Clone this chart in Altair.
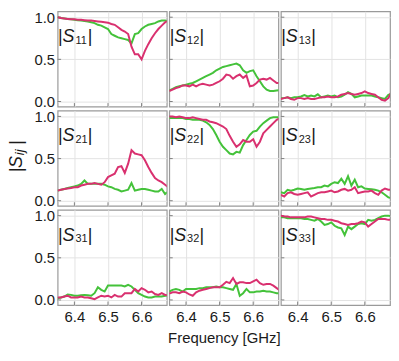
import altair as alt
import pandas as pd

FREQ = [6.35, 6.36, 6.37, 6.38, 6.39, 6.40, 6.41, 6.42, 6.43, 6.44, 6.45, 6.46,
        6.47, 6.48, 6.49, 6.50, 6.51, 6.52, 6.53, 6.54, 6.55, 6.56, 6.57, 6.58,
        6.59, 6.60, 6.61, 6.62, 6.63, 6.64, 6.65, 6.66, 6.67, 6.68]

S11_M = [1.0, 0.99, 0.985, 0.98, 0.975, 0.975, 0.97, 0.97, 0.965, 0.96, 0.96, 0.955,
         0.95, 0.945, 0.94, 0.935, 0.92, 0.91, 0.88, 0.85, 0.83, 0.80, 0.65, 0.56,
         0.56, 0.50, 0.60, 0.68, 0.75, 0.81, 0.86, 0.90, 0.94, 0.96]
S11_G = [1.0, 0.99, 0.985, 0.98, 0.975, 0.97, 0.965, 0.96, 0.955, 0.95, 0.94, 0.93,
         0.91, 0.90, 0.88, 0.86, 0.80, 0.78, 0.76, 0.75, 0.74, 0.73, 0.69, 0.80,
         0.81, 0.86, 0.89, 0.91, 0.92, 0.93, 0.95, 0.96, 0.96, 0.95]
S12_M = [0.125, 0.14, 0.16, 0.17, 0.19, 0.19, 0.18, 0.20, 0.18, 0.20, 0.21, 0.20,
         0.19, 0.20, 0.22, 0.24, 0.27, 0.32, 0.31, 0.27, 0.30, 0.32, 0.28, 0.31,
         0.18, 0.19, 0.22, 0.26, 0.27, 0.26, 0.28, 0.25, 0.22, 0.22]
S12_G = [0.13, 0.15, 0.17, 0.18, 0.19, 0.20, 0.21, 0.22, 0.24, 0.26, 0.28, 0.30,
         0.32, 0.34, 0.37, 0.39, 0.41, 0.42, 0.43, 0.44, 0.45, 0.43, 0.37, 0.34,
         0.36, 0.37, 0.30, 0.24, 0.18, 0.14, 0.125, 0.125, 0.13, 0.135]
S13_M = [0.03, 0.04, 0.05, 0.03, 0.02, 0.04, 0.04, 0.03, 0.04, 0.03, 0.03, 0.04,
         0.05, 0.05, 0.06, 0.05, 0.05, 0.06, 0.08, 0.09, 0.10, 0.09, 0.08, 0.09,
         0.10, 0.12, 0.10, 0.09, 0.08, 0.05, 0.02, 0.01, 0.04, 0.12]
S13_G = [0.04, 0.04, 0.05, 0.04, 0.05, 0.05, 0.06, 0.075, 0.06, 0.07, 0.06, 0.085,
         0.05, 0.06, 0.07, 0.06, 0.07, 0.05, 0.06, 0.08, 0.11, 0.09, 0.05, 0.06,
         0.07, 0.07, 0.07, 0.07, 0.06, 0.05, 0.04, 0.03, 0.08, 0.09]
S21_M = [0.12, 0.13, 0.14, 0.145, 0.15, 0.16, 0.16, 0.18, 0.19, 0.20, 0.20, 0.21,
         0.20, 0.19, 0.22, 0.28, 0.30, 0.32, 0.40, 0.41, 0.33, 0.44, 0.60, 0.56,
         0.55, 0.54, 0.48, 0.40, 0.33, 0.27, 0.24, 0.22, 0.19, 0.16]
S21_G = [0.12, 0.13, 0.14, 0.15, 0.16, 0.17, 0.18, 0.20, 0.24, 0.20, 0.20, 0.20,
         0.20, 0.20, 0.19, 0.17, 0.16, 0.14, 0.13, 0.11, 0.12, 0.13, 0.21, 0.12,
         0.13, 0.14, 0.14, 0.13, 0.12, 0.11, 0.11, 0.14, 0.08, 0.11]
S22_M = [1.0, 1.0, 0.99, 1.0, 0.99, 0.98, 0.98, 0.99, 0.98, 0.97, 0.96, 0.96,
         0.94, 0.93, 0.92, 0.90, 0.88, 0.85, 0.77, 0.70, 0.64, 0.67, 0.72, 0.70,
         0.70, 0.73, 0.64, 0.70, 0.80, 0.84, 0.88, 0.92, 0.96, 0.98]
S22_G = [0.98, 0.98, 0.98, 0.98, 0.98, 0.97, 0.97, 0.96, 0.96, 0.96, 0.95, 0.93,
         0.90, 0.85, 0.78, 0.70, 0.64, 0.60, 0.56, 0.55, 0.58, 0.57, 0.66, 0.72,
         0.78, 0.82, 0.83, 0.88, 0.92, 0.95, 0.98, 0.99, 0.99, 0.99]
S23_M = [0.07, 0.05, 0.09, 0.10, 0.08, 0.07, 0.08, 0.09, 0.10, 0.05, 0.07, 0.09,
         0.10, 0.10, 0.11, 0.12, 0.10, 0.11, 0.13, 0.14, 0.12, 0.13, 0.16, 0.09,
         0.10, 0.11, 0.11, 0.12, 0.09, 0.07, 0.12, 0.145, 0.13, 0.13]
S23_G = [0.10, 0.09, 0.13, 0.12, 0.13, 0.145, 0.14, 0.13, 0.14, 0.145, 0.15, 0.16,
         0.16, 0.18, 0.17, 0.20, 0.22, 0.21, 0.26, 0.20, 0.29, 0.18, 0.25, 0.16,
         0.17, 0.145, 0.14, 0.135, 0.13, 0.12, 0.10, 0.07, 0.04, 0.03]
S31_M = [0.03, 0.03, 0.04, 0.05, 0.03, 0.03, 0.03, 0.04, 0.03, 0.03, 0.02, 0.01,
         0.03, 0.05, 0.04, 0.05, 0.03, 0.06, 0.04, 0.04, 0.08, 0.08, 0.08, 0.13,
         0.10, 0.14, 0.12, 0.09, 0.10, 0.07, 0.06, 0.08, 0.06, 0.06]
S31_G = [0.02, 0.03, 0.04, 0.065, 0.06, 0.05, 0.05, 0.055, 0.06, 0.055, 0.05, 0.08,
         0.15, 0.12, 0.10, 0.17, 0.17, 0.17, 0.17, 0.17, 0.16, 0.18, 0.16, 0.12,
         0.08, 0.06, 0.04, 0.03, 0.03, 0.04, 0.04, 0.04, 0.05, 0.05]
S32_M = [0.075, 0.09, 0.09, 0.08, 0.10, 0.09, 0.065, 0.05, 0.09, 0.11, 0.12, 0.13,
         0.14, 0.15, 0.15, 0.15, 0.18, 0.215, 0.20, 0.26, 0.19, 0.21, 0.21, 0.20,
         0.20, 0.22, 0.24, 0.20, 0.18, 0.19, 0.19, 0.17, 0.14, 0.11]
S32_G = [0.10, 0.12, 0.13, 0.12, 0.10, 0.13, 0.13, 0.13, 0.13, 0.14, 0.14, 0.15,
         0.15, 0.15, 0.16, 0.15, 0.15, 0.14, 0.13, 0.12, 0.19, 0.05, 0.08, 0.13,
         0.09, 0.09, 0.10, 0.10, 0.11, 0.10, 0.10, 0.09, 0.08, 0.08]
S33_M = [1.0, 0.99, 0.99, 0.98, 0.98, 0.98, 0.98, 0.98, 0.99, 0.99, 0.98, 0.97,
         0.96, 0.96, 0.95, 0.95, 0.94, 0.93, 0.91, 0.90, 0.89, 0.90, 0.90, 0.91,
         0.93, 0.92, 0.87, 0.90, 0.93, 0.96, 0.96, 0.96, 0.95, 0.95]
S33_G = [0.98, 0.98, 0.97, 0.97, 0.97, 0.97, 0.97, 0.96, 0.96, 0.95, 0.94, 0.96,
         0.93, 0.89, 0.90, 0.92, 0.88, 0.86, 0.85, 0.77, 0.87, 0.84, 0.87, 0.90,
         0.91, 0.90, 0.95, 0.94, 0.95, 0.97, 0.99, 1.0, 1.0, 0.99]

PANELS = [["11", "12", "13"], ["21", "22", "23"], ["31", "32", "33"]]
SERIES = {
    "11": (S11_M, S11_G), "12": (S12_M, S12_G), "13": (S13_M, S13_G),
    "21": (S21_M, S21_G), "22": (S22_M, S22_G), "23": (S23_M, S23_G),
    "31": (S31_M, S31_G), "32": (S32_M, S32_G), "33": (S33_M, S33_G),
}
X_TICKS = [6.4, 6.5, 6.6]
Y_TICKS = [0.0, 0.5, 1.0]

MAG = "#d9306f"
GRN = "#44c23a"
FONT = "Liberation Sans"
W, H = 110, 96

rows = []
for key, (m, g) in SERIES.items():
    for f, v in zip(FREQ, g):
        rows.append({"panel": key, "series": "g", "freq": f, "value": v})
    for f, v in zip(FREQ, m):
        rows.append({"panel": key, "series": "m", "freq": f, "value": v})
df = pd.DataFrame(rows)
one = pd.DataFrame({"a": [0]})
xt_df = pd.DataFrame({"freq": X_TICKS})
yt_df = pd.DataFrame({"value": Y_TICKS})

XSCALE = alt.Scale(domain=[6.35, 6.675], nice=False, zero=False)
YSCALE = alt.Scale(domain=[-0.06, 1.07], nice=False)


def text_piece(txt, x, y, size, italic=False, angle=0):
    kw = dict(text=txt, align="left", baseline="alphabetic", fontSize=size,
              font=FONT, color="#1a1a1a")
    if italic:
        kw["fontStyle"] = "italic"
    if angle:
        kw["angle"] = angle
    return alt.Chart(one).mark_text(**kw).encode(x=alt.value(x), y=alt.value(y))


def panel(key, r, c):
    show_x = r == 2
    show_y = c == 0
    xkw = dict(values=X_TICKS, format=".1f", labels=show_x, ticks=False, domain=False,
               grid=True, labelPadding=5, titlePadding=6)
    if show_x and c == 1:
        xkw["title"] = "Frequency [GHz]"
    else:
        xkw["title"] = None
    ykw = dict(values=Y_TICKS, format=".1f", labels=show_y, ticks=False, domain=False,
               grid=True, labelPadding=3, title=None)
    xaxis = alt.Axis(**xkw)
    yaxis = alt.Axis(**ykw)
    lines = alt.Chart(df[df.panel == key]).mark_line(strokeWidth=2, clip=True).encode(
        x=alt.X("freq:Q", scale=XSCALE, axis=xaxis),
        y=alt.Y("value:Q", scale=YSCALE, axis=yaxis),
        color=alt.Color("series:N", scale=alt.Scale(domain=["g", "m"], range=[GRN, MAG]),
                        legend=None),
        detail="series:N",
    )
    xticks = alt.Chart(xt_df).mark_rule(color="#808080", strokeWidth=1).encode(
        x=alt.X("freq:Q", scale=XSCALE, axis=xaxis),
        y=alt.value(H), y2=alt.value(H - 3.5),
    )
    yticks = alt.Chart(yt_df).mark_rule(color="#808080", strokeWidth=1).encode(
        y=alt.Y("value:Q", scale=YSCALE, axis=yaxis),
        x=alt.value(0), x2=alt.value(3.5),
    )
    lab = [
        text_piece("|", 0.5, 31, 18),
        text_piece("S", 5, 31, 18, italic=True),
        text_piece(key, 18, 32.5, 11),
        text_piece("|", 30.5, 31, 18),
    ]
    return alt.layer(xticks, yticks, lines, *lab).properties(width=W, height=H)


cells = [panel(PANELS[r][c], r, c) for r in range(3) for c in range(3)]
grid = alt.concat(*cells, columns=3, spacing={"row": 4, "column": 2.5}, bounds="flush")

ytitle = alt.layer(
    text_piece("|", 14.5, 162, 18, angle=270),
    text_piece("S", 14.5, 158, 18, italic=True, angle=270),
    text_piece("ij", 16, 145, 13, italic=True, angle=270),
    text_piece("|", 14.5, 134.5, 18, angle=270),
).properties(width=18, height=3 * H + 8, view=alt.ViewBackground(strokeOpacity=0))

chart = alt.hconcat(ytitle, grid, spacing=6).properties(padding=0).configure_view(
    stroke="#9a9a9a", strokeWidth=1.2
).configure_axis(
    gridColor="#e3e3e3", gridWidth=1, labelFont=FONT, labelFontSize=15,
    labelColor="#1a1a1a", titleFont=FONT, titleFontSize=15, titleColor="#1a1a1a",
    titleFontWeight="normal"
)

chart.save("out.html", embed_options={"renderer": "svg", "actions": False})
